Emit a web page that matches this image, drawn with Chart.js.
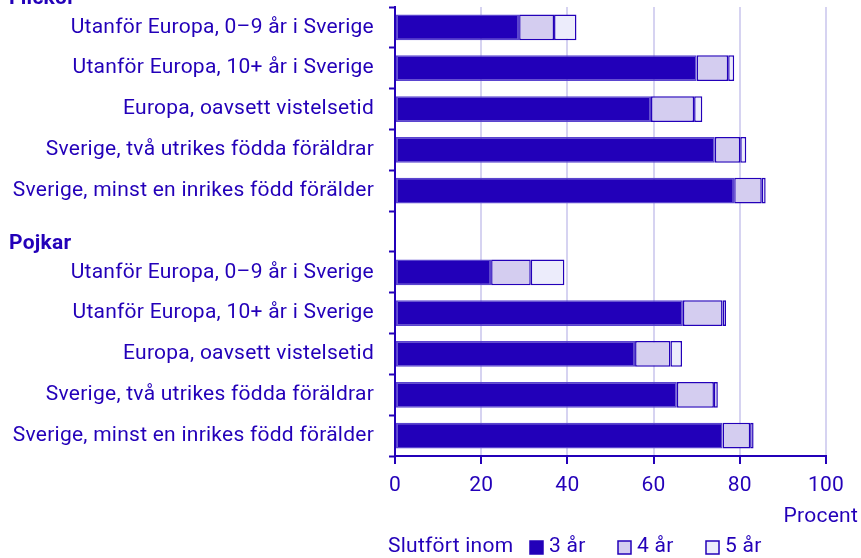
<!DOCTYPE html>
<html>
<head>
<meta charset="utf-8">
<script src="https://cdn.jsdelivr.net/npm/chart.js@4/dist/chart.umd.min.js"></script>
<style>
  html, body { margin: 0; padding: 0; background: #fff; }
  #wrap { width: 861px; height: 558px; position: relative; }
</style>
</head>
<body>
<div id="wrap"><canvas id="chart"></canvas></div>
<script>
// rows: five for girls, an empty spacer row, five for boys
const categories = [
  'Utanför Europa, 0–9 år i Sverige',
  'Utanför Europa, 10+ år i Sverige',
  'Europa, oavsett vistelsetid',
  'Sverige, två utrikes födda föräldrar',
  'Sverige, minst en inrikes född förälder',
  '',
  'Utanför Europa, 0–9 år i Sverige',
  'Utanför Europa, 10+ år i Sverige',
  'Europa, oavsett vistelsetid',
  'Sverige, två utrikes födda föräldrar',
  'Sverige, minst en inrikes född förälder'
];
const groupHeaders = [{ label: 'Flickor', row: 0 }, { label: 'Pojkar', row: 6 }];

const within3 = [28.8, 70.0, 59.4, 74.2, 78.7, null, 22.3, 66.8, 55.7, 65.4, 76.0];
const within4 = [8.1, 7.3, 10.0, 5.9, 6.4, null, 9.2, 9.2, 8.2, 8.6, 6.4];
const within5 = [5.2, 1.4, 1.9, 1.4, 0.9, null, 7.8, 0.8, 2.7, 0.9, 0.8];

const seriesNames = ['3 år', '4 år', '5 år'];
const xTicks = [0, 20, 40, 60, 80, 100];

const ink = '#2300b9';
const fills = ['#2200b9', '#d4cdf0', '#ececfb'];
const gridCol = '#d6d3f1';
const font = 'Roboto, "Noto Sans", sans-serif';
const fs = 21;

// a touch of letter spacing for all canvas text
const spacing = {
  id: 'spacing',
  beforeDraw(chart) { chart.ctx.letterSpacing = '0.25px'; }
};

// headers, unit label and legend are drawn on the canvas
const extras = {
  id: 'extras',
  afterDraw(chart) {
    const ctx = chart.ctx;
    const y = chart.scales.y;
    const x = chart.scales.x;
    const area = chart.chartArea;
    const band = y.getPixelForValue(1) - y.getPixelForValue(0);
    ctx.save();
    ctx.fillStyle = ink;
    ctx.textBaseline = 'middle';

    ctx.font = 'bold ' + fs + 'px ' + font;
    ctx.textAlign = 'left';
    groupHeaders.forEach(h => {
      ctx.fillText(h.label, 9, y.getPixelForValue(h.row) - band / 2 - 8.5);
    });

    ctx.font = fs + 'px ' + font;
    ctx.textAlign = 'right';
    ctx.fillText('Procent', x.getPixelForValue(100) + 32, area.bottom + 61);

    // legend row
    let lx = area.left - 7;
    const ly = chart.height - 11;
    ctx.textAlign = 'left';
    ctx.fillText('Slutfört inom', lx, ly);
    lx = area.left + 135;
    chart.data.datasets.forEach(ds => {
      ctx.fillStyle = ds.backgroundColor;
      ctx.fillRect(lx, ly - 6, 13, 13);
      ctx.strokeStyle = ink;
      ctx.lineWidth = 1.5;
      ctx.strokeRect(lx, ly - 6, 13, 13);
      ctx.fillStyle = ink;
      ctx.fillText(ds.label, lx + 19, ly);
      lx += 88;
    });
    ctx.restore();
  }
};

const mkSet = (label, data, i) => ({
  label: label,
  data: data,
  backgroundColor: fills[i],
  borderColor: i === 0 ? '#5a44cf' : ink,
  borderWidth: 1.5,
  borderSkipped: false,
  categoryPercentage: 1,
  barPercentage: 0.63
});

new Chart(document.getElementById('chart'), {
  type: 'bar',
  data: {
    labels: categories,
    datasets: [
      mkSet(seriesNames[0], within3, 0),
      mkSet(seriesNames[1], within4, 1),
      mkSet(seriesNames[2], within5, 2)
    ]
  },
  options: {
    indexAxis: 'y',
    responsive: true,
    maintainAspectRatio: false,
    animation: false,
    layout: { padding: { top: 7, right: 35, bottom: 62, left: 0 } },
    plugins: {
      legend: { display: false },
      tooltip: { enabled: false }
    },
    scales: {
      x: {
        stacked: true,
        min: 0,
        max: 100,
        afterBuildTicks: s => { s.ticks = xTicks.map(v => ({ value: v })); },
        afterFit: s => { s.height = 40; s.paddingLeft = 0; s.paddingRight = 0; },
        border: { color: ink, width: 2 },
        grid: { color: gridCol, lineWidth: 2, tickColor: ink, tickLength: 8, tickWidth: 2 },
        ticks: { color: ink, font: { family: font, size: fs }, padding: 9, maxRotation: 0 }
      },
      y: {
        stacked: true,
        afterFit: s => { s.width = 395; s.paddingTop = 0; s.paddingBottom = 0; },
        border: { color: ink, width: 2 },
        grid: { drawOnChartArea: false, offset: true, tickColor: ink, tickLength: 6, tickWidth: 2 },
        ticks: { color: ink, font: { family: font, size: fs }, padding: 15, autoSkip: false }
      }
    }
  },
  plugins: [spacing, extras]
});
</script>
</body>
</html>
